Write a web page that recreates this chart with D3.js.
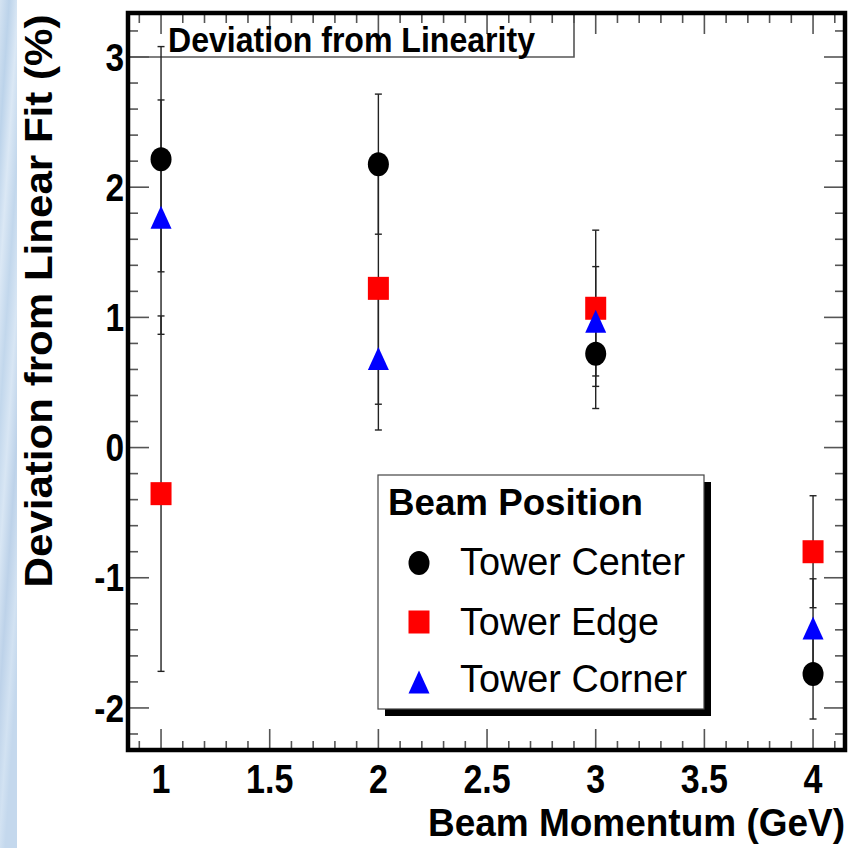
<!DOCTYPE html>
<html>
<head>
<meta charset="utf-8">
<script src="https://cdn.jsdelivr.net/npm/d3@7"></script>
<style>
  html, body { margin: 0; padding: 0; background: #fff; }
  svg { display: block; font-family: "Liberation Sans", Arial, sans-serif; }
</style>
</head>
<body>
<svg id="plot" width="857" height="848"></svg>
<script>
// data
const momenta = [1, 2, 3, 4];
const centerVals = [2.215, 2.177, 0.72, -1.74];
const centerErrs = [0.865, 0.538, 0.42, 0.345];
const edgeVals = [-0.354, 1.223, 1.07, -0.80];
const edgeErrs = [1.365, 0.89, 0.60, 0.43];
const cornerVals = [1.77, 0.685, 0.97, -1.385];
const cornerErrs = [0.90, 0.55, 0.42, 0.377];

const seriesNames = ["Tower Center", "Tower Edge", "Tower Corner"];
const xTickLabels = ["1", "1.5", "2", "2.5", "3", "3.5", "4"];
const yTickLabels = ["-2", "-1", "0", "1", "2", "3"];

const svg = d3.select("#plot");

// frame box in pixels
const frame = { left: 128, right: 845, top: 13, bottom: 750 };

const x = d3.scaleLinear().domain([0.848, 4.147]).range([frame.left, frame.right]);
const y = d3.scaleLinear().domain([-2.323, 3.338]).range([frame.bottom, frame.top]);

// light blue strip on the left edge of the slide
const grad = svg.append("defs").append("linearGradient")
    .attr("id", "marble").attr("x1", 0).attr("y1", 0).attr("x2", 0.3).attr("y2", 1);
[["0%", "#d4e3f2"], ["15%", "#bcd3ea"], ["30%", "#dbe8f5"], ["45%", "#c2d7ec"],
 ["60%", "#d8e6f4"], ["75%", "#bdd2e9"], ["90%", "#d2e2f2"], ["100%", "#c4d8ed"]]
    .forEach(s => grad.append("stop").attr("offset", s[0]).attr("stop-color", s[1]));
svg.append("rect").attr("x", 0).attr("y", 0).attr("width", 17).attr("height", 848)
    .attr("fill", "url(#marble)");

const g = svg.append("g");

// squeeze text horizontally, like the narrow ROOT fonts
function squeeze(sel, factor) {
    sel.each(function () {
        const w = this.getComputedTextLength();
        d3.select(this).attr("textLength", w * factor).attr("lengthAdjust", "spacingAndGlyphs");
    });
}

// ticks (ROOT style, inside the frame on all four sides)
const tickColor = "#555";
const yMinor = d3.range(-22, 33, 2).map(d => d / 10);
const xMinor = d3.range(9, 42, 1).map(d => d / 10);
const isMajorY = v => Math.abs(v - Math.round(v)) < 1e-6;
const isMajorX = v => Math.abs(v * 2 - Math.round(v * 2)) < 1e-6;

g.selectAll(".ytick-l").data(yMinor).enter().append("line")
    .attr("x1", frame.left).attr("x2", d => frame.left + (isMajorY(d) ? 21 : 10))
    .attr("y1", d => y(d)).attr("y2", d => y(d))
    .attr("stroke", tickColor).attr("stroke-width", 1.6);
g.selectAll(".ytick-r").data(yMinor).enter().append("line")
    .attr("x1", frame.right).attr("x2", d => frame.right - (isMajorY(d) ? 21 : 10))
    .attr("y1", d => y(d)).attr("y2", d => y(d))
    .attr("stroke", tickColor).attr("stroke-width", 1.6);
g.selectAll(".xtick-b").data(xMinor).enter().append("line")
    .attr("x1", d => x(d)).attr("x2", d => x(d))
    .attr("y1", frame.bottom).attr("y2", d => frame.bottom - (isMajorX(d) ? 21 : 9))
    .attr("stroke", tickColor).attr("stroke-width", 1.6);
g.selectAll(".xtick-t").data(xMinor).enter().append("line")
    .attr("x1", d => x(d)).attr("x2", d => x(d))
    .attr("y1", frame.top).attr("y2", d => frame.top + (isMajorX(d) ? 21 : 10))
    .attr("stroke", tickColor).attr("stroke-width", 1.6);

// tick labels
g.selectAll(".xlab").data(xTickLabels).enter().append("text")
    .attr("x", d => x(+d)).attr("y", 793)
    .attr("text-anchor", "middle")
    .style("font-size", "40px").style("font-weight", "bold")
    .text(d => d)
    .call(squeeze, 0.85);
g.selectAll(".ylab").data(yTickLabels).enter().append("text")
    .attr("x", 124).attr("y", d => y(+d)).attr("dy", "0.36em")
    .attr("text-anchor", "end")
    .style("font-size", "38px").style("font-weight", "bold")
    .text(d => d)
    .call(squeeze, 0.88);

// axis titles
g.append("text")
    .attr("x", 845).attr("y", 836)
    .attr("text-anchor", "end")
    .attr("textLength", 417).attr("lengthAdjust", "spacingAndGlyphs")
    .style("font-size", "38px").style("font-weight", "bold")
    .text("Beam Momentum (GeV)");
g.append("text")
    .attr("transform", "translate(52,301) rotate(-90)")
    .attr("text-anchor", "middle")
    .attr("textLength", 573).attr("lengthAdjust", "spacingAndGlyphs")
    .style("font-size", "39px").style("font-weight", "bold")
    .text("Deviation from Linear Fit (%)");

// title box
g.append("path")
    .attr("d", `M${frame.left},57H574V${frame.top}`)
    .attr("fill", "none").attr("stroke", tickColor).attr("stroke-width", 1.6);
g.append("text")
    .attr("x", 168).attr("y", 52)
    .attr("textLength", 367).attr("lengthAdjust", "spacingAndGlyphs")
    .style("font-size", "35px").style("font-weight", "bold")
    .text("Deviation from Linearity");

// series
const series = [
    { name: seriesNames[0], vals: centerVals, errs: centerErrs, color: "#000", shape: "circle" },
    { name: seriesNames[1], vals: edgeVals, errs: edgeErrs, color: "#ff0000", shape: "square" },
    { name: seriesNames[2], vals: cornerVals, errs: cornerErrs, color: "#0000ff", shape: "triangle" }
];

function drawMarker(sel, shape, color, cx, cy) {
    if (shape === "circle") {
        sel.append("ellipse").attr("cx", cx).attr("cy", cy)
            .attr("rx", 10.5).attr("ry", 12).attr("fill", color);
    } else if (shape === "square") {
        sel.append("rect").attr("x", cx - 10.5).attr("y", cy - 11.5)
            .attr("width", 21).attr("height", 23).attr("fill", color);
    } else {
        sel.append("path")
            .attr("d", `M${cx},${cy - 11.5}L${cx + 10.5},${cy + 11.5}L${cx - 10.5},${cy + 11.5}Z`)
            .attr("fill", color);
    }
}

// error bars first
series.forEach(s => {
    momenta.forEach((m, i) => {
        const px = x(m), lo = y(s.vals[i] - s.errs[i]), hi = y(s.vals[i] + s.errs[i]);
        g.append("line").attr("x1", px).attr("x2", px).attr("y1", lo).attr("y2", hi)
            .attr("stroke", "#222").attr("stroke-width", 1.4);
        [lo, hi].forEach(py => g.append("line")
            .attr("x1", px - 3.5).attr("x2", px + 3.5).attr("y1", py).attr("y2", py)
            .attr("stroke", "#222").attr("stroke-width", 1.4));
    });
});
series.forEach(s => {
    momenta.forEach((m, i) => drawMarker(g, s.shape, s.color, x(m), y(s.vals[i])));
});

// legend with shadow
const leg = { x: 378, y: 475, w: 326, h: 234 };
g.append("rect").attr("x", leg.x + 7).attr("y", leg.y + 7)
    .attr("width", leg.w).attr("height", leg.h).attr("fill", "#000");
g.append("rect").attr("x", leg.x).attr("y", leg.y)
    .attr("width", leg.w).attr("height", leg.h)
    .attr("fill", "#fff").attr("stroke", "#444").attr("stroke-width", 1.2);
g.append("text").attr("x", 388).attr("y", 515)
    .attr("textLength", 255).attr("lengthAdjust", "spacingAndGlyphs")
    .style("font-size", "37px").style("font-weight", "bold")
    .text("Beam Position");
const legRows = [563, 622, 682];
const legBase = [575, 635, 692];
const legWidths = [225, 199, 227];
series.forEach((s, i) => {
    drawMarker(g, s.shape, s.color, 419, legRows[i]);
    g.append("text").attr("x", 460).attr("y", legBase[i])
        .attr("textLength", legWidths[i]).attr("lengthAdjust", "spacingAndGlyphs")
        .style("font-size", "38px")
        .text(s.name);
});

// frame on top
g.append("rect")
    .attr("x", frame.left).attr("y", frame.top)
    .attr("width", frame.right - frame.left).attr("height", frame.bottom - frame.top)
    .attr("fill", "none").attr("stroke", "#000").attr("stroke-width", 4.5);
</script>
</body>
</html>
